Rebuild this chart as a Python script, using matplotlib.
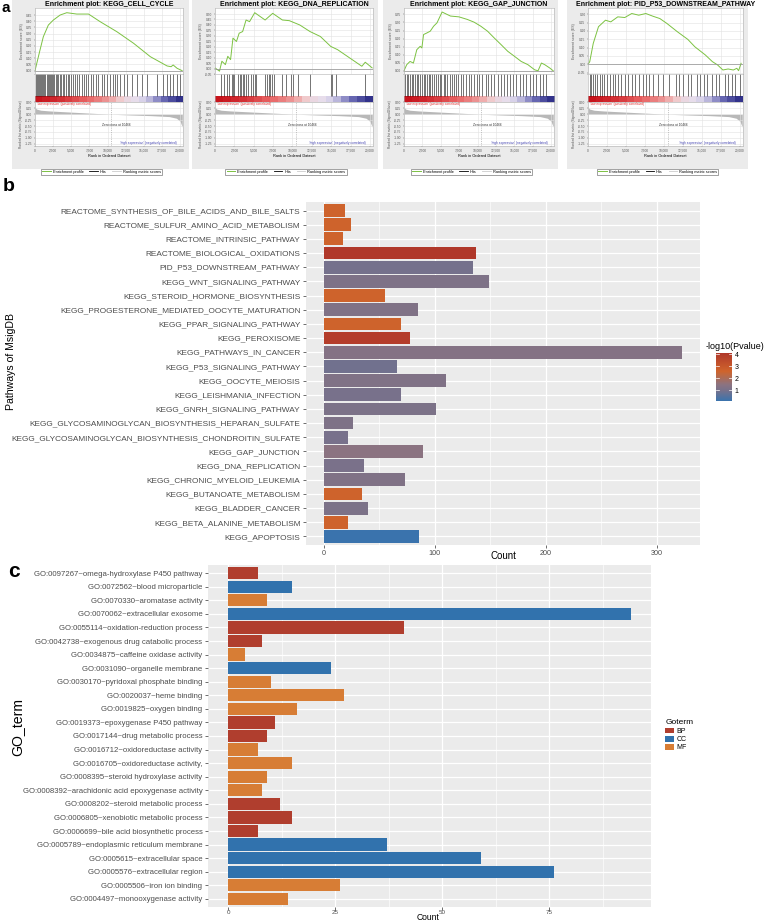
import numpy as np
import matplotlib
matplotlib.use("Agg")
import matplotlib.pyplot as plt
from matplotlib.colors import LinearSegmentedColormap, Normalize
from matplotlib.patches import Rectangle, Patch
from matplotlib.lines import Line2D
from matplotlib.ticker import FuncFormatter
import matplotlib.colorbar as mcolorbar

plt.rcParams['font.family'] = ['Liberation Sans', 'DejaVu Sans']

# ---------------- panel a: GSEA enrichment plots ----------------
gsea_names = ["KEGG_CELL_CYCLE", "KEGG_DNA_REPLICATION", "KEGG_GAP_JUNCTION",
              "PID_P53_DOWNSTREAM_PATHWAY"]

es1_rank = [0, 690, 1150, 1840, 2540, 3460, 4380, 5760, 7380, 8990, 11290, 13600,
            15900, 18210, 18760, 19040, 19590, 20280]
es1_score = [0, 0.167, 0.275, 0.369, 0.41, 0.45, 0.469, 0.458, 0.458, 0.396, 0.315,
             0.221, 0.113, 0.038, 0.032, 0.046, 0.019, 0]
es2_rank = [0, 580, 890, 1340, 1650, 2010, 2320, 2770, 3120, 3570, 4010, 4460, 5130,
            6470, 7450, 8700, 9590, 10930, 12270, 13600, 14940, 15830, 18960, 19400, 20290]
es2_score = [0.006, -0.024, 0.067, 0.036, 0.112, 0.082, 0.279, 0.248, 0.324, 0.339,
             0.445, 0.43, 0.512, 0.445, 0.506, 0.445, 0.439, 0.4, 0.339, 0.294, 0.203,
             0.173, 0.021, 0.058, 0.006]
es3_rank = [0, 370, 820, 1280, 1740, 2200, 2430, 2660, 3110, 3570, 4030, 4490, 5180,
            5860, 6320, 7470, 8610, 9530, 10440, 11360, 12270, 13190, 14110, 15020,
            15940, 16850, 17770, 18230, 18690, 19140, 19830, 20290]
es3_score = [0, 0.038, 0.058, 0.048, 0.131, 0.152, 0.142, 0.225, 0.235, 0.246, 0.277,
             0.298, 0.365, 0.35, 0.34, 0.335, 0.319, 0.302, 0.277, 0.246, 0.204, 0.163,
             0.121, 0.09, 0.058, 0.038, 0.006, 0, 0.048, 0.038, 0.017, 0]
es4_rank = [0, 230, 690, 1380, 2300, 3000, 3920, 4840, 5760, 6680, 7610, 8530, 9450,
            10370, 11760, 13140, 14060, 15440, 16370, 17060, 17750, 18440, 19130, 19590,
            19820, 20150]
es4_score = [0, 0.016, 0.125, 0.225, 0.264, 0.254, 0.284, 0.28, 0.304, 0.294, 0.304,
             0.288, 0.274, 0.245, 0.195, 0.149, 0.105, 0.056, 0.016, -0.004, -0.034,
             -0.028, -0.034, -0.024, -0.038, 0.006]

hits1 = [140, 320, 460, 600, 740, 870, 1010, 1150, 1290, 1430, 1610, 1750, 1890, 2070,
         2210, 2390, 2530, 2670, 2850, 2990, 3220, 3450, 3630, 3820, 4050, 4280, 4510,
         4740, 5010, 5290, 5570, 5840, 6120, 6440, 6760, 7040, 7360, 7680, 8050, 8420,
         8740, 9200, 9520, 9890, 10350, 10720, 11040, 11360, 11730, 12280, 12740, 13340,
         14030, 14720, 15410, 16790, 17710, 18170, 18630, 19090, 19550, 20010]
hits2 = [760, 1120, 1560, 1870, 2140, 2320, 2450, 2990, 3170, 3350, 3570, 3790, 4010,
         4240, 4680, 4910, 5130, 5350, 6470, 6690, 6910, 7140, 7360, 7580, 8700, 9140,
         9810, 10120, 10700, 12260, 14940, 15160, 15610, 19400]
hits3 = [140, 370, 600, 820, 1050, 1280, 1510, 1740, 1970, 2200, 2430, 2660, 2890, 3110,
         3340, 3570, 3800, 4030, 4400, 4580, 4850, 5040, 5400, 5630, 5860, 6230, 6550,
         6780, 7010, 7330, 7690, 8060, 8380, 8840, 9160, 9530, 9890, 10210, 10670, 11130,
         11450, 11820, 12270, 12730, 13190, 13650, 14010, 14470, 14790, 15250, 15710,
         16170, 16630, 17080, 17540, 18000, 18460, 18920, 19370]
hits4 = [230, 460, 690, 920, 1150, 1520, 1840, 2170, 2540, 2860, 3230, 3550, 3920, 4380,
         4840, 5300, 5760, 6220, 6680, 7240, 7610, 8070, 8530, 9220, 9910, 10600, 11520,
         11990, 12450, 13140, 13600, 14290, 14750, 15210, 15670, 16370, 16830, 17290,
         17980, 18440, 18900, 19360, 20050]

metric_rank = [0, 200, 800, 2000, 5000, 8000, 10466, 13000, 16000, 18500, 19500, 20000, 20300]
metric_val = [0.33, 0.22, 0.17, 0.14, 0.09, 0.04, 0.0, -0.03, -0.06, -0.1, -0.17, -0.3, -0.55]
zero_cross = 10466
strip_levels = [1.0, 0.95, 0.9, 0.85, 0.78, 0.7, 0.62, 0.55, 0.48, 0.4, 0.3, 0.15,
                -0.05, -0.15, -0.25, -0.35, -0.5, -0.65, -0.8, -0.95]

# ---------------- panel b: MsigDB pathways ----------------
pathways = [
    "REACTOME_SYNTHESIS_OF_BILE_ACIDS_AND_BILE_SALTS",
    "REACTOME_SULFUR_AMINO_ACID_METABOLISM",
    "REACTOME_INTRINSIC_PATHWAY",
    "REACTOME_BIOLOGICAL_OXIDATIONS",
    "PID_P53_DOWNSTREAM_PATHWAY",
    "KEGG_WNT_SIGNALING_PATHWAY",
    "KEGG_STEROID_HORMONE_BIOSYNTHESIS",
    "KEGG_PROGESTERONE_MEDIATED_OOCYTE_MATURATION",
    "KEGG_PPAR_SIGNALING_PATHWAY",
    "KEGG_PEROXISOME",
    "KEGG_PATHWAYS_IN_CANCER",
    "KEGG_P53_SIGNALING_PATHWAY",
    "KEGG_OOCYTE_MEIOSIS",
    "KEGG_LEISHMANIA_INFECTION",
    "KEGG_GNRH_SIGNALING_PATHWAY",
    "KEGG_GLYCOSAMINOGLYCAN_BIOSYNTHESIS_HEPARAN_SULFATE",
    "KEGG_GLYCOSAMINOGLYCAN_BIOSYNTHESIS_CHONDROITIN_SULFATE",
    "KEGG_GAP_JUNCTION",
    "KEGG_DNA_REPLICATION",
    "KEGG_CHRONIC_MYELOID_LEUKEMIA",
    "KEGG_BUTANOATE_METABOLISM",
    "KEGG_BLADDER_CANCER",
    "KEGG_BETA_ALANINE_METABOLISM",
    "KEGG_APOPTOSIS",
]
pathway_count = [19, 24, 17, 137, 134, 149, 55, 85, 69, 78, 323, 66, 110, 69, 101, 26,
                 22, 89, 36, 73, 34, 40, 22, 86]
pathway_neglogp = [2.6, 2.6, 2.6, 4.1, 0.95, 1.15, 2.6, 1.2, 2.6, 3.9, 1.3, 0.9, 1.2,
                   1.0, 1.1, 1.15, 1.0, 1.45, 1.05, 1.2, 2.6, 1.1, 2.6, 0.1]

# ---------------- panel c: GO terms ----------------
go_terms = [
    "GO:0097267~omega-hydroxylase P450 pathway",
    "GO:0072562~blood microparticle",
    "GO:0070330~aromatase activity",
    "GO:0070062~extracellular exosome",
    "GO:0055114~oxidation-reduction process",
    "GO:0042738~exogenous drug catabolic process",
    "GO:0034875~caffeine oxidase activity",
    "GO:0031090~organelle membrane",
    "GO:0030170~pyridoxal phosphate binding",
    "GO:0020037~heme binding",
    "GO:0019825~oxygen binding",
    "GO:0019373~epoxygenase P450 pathway",
    "GO:0017144~drug metabolic process",
    "GO:0016712~oxidoreductase activity",
    "GO:0016705~oxidoreductase activity,",
    "GO:0008395~steroid hydroxylase activity",
    "GO:0008392~arachidonic acid epoxygenase activity",
    "GO:0008202~steroid metabolic process",
    "GO:0006805~xenobiotic metabolic process",
    "GO:0006699~bile acid biosynthetic process",
    "GO:0005789~endoplasmic reticulum membrane",
    "GO:0005615~extracellular space",
    "GO:0005576~extracellular region",
    "GO:0005506~iron ion binding",
    "GO:0004497~monooxygenase activity",
]
go_count = [7, 15, 9, 94, 41, 8, 4, 24, 10, 27, 16, 11, 9, 7, 15, 9, 8, 12, 15, 7,
            37, 59, 76, 26, 14]
go_cat = ["BP", "CC", "MF", "CC", "BP", "BP", "MF", "CC", "MF", "MF", "MF", "BP", "BP",
          "MF", "MF", "MF", "MF", "BP", "BP", "BP", "CC", "CC", "CC", "MF", "MF"]
go_levels = ["BP", "CC", "MF"]
go_colors = {"BP": "#b03e2e", "CC": "#3172ad", "MF": "#d77d35"}

# ---------------- figure ----------------
W, H = 784, 923
fig = plt.figure(figsize=(W / 100, H / 100), dpi=100)


def px_axes(x0, y0, x1, y1):
    return fig.add_axes([x0 / W, 1 - y1 / H, (x1 - x0) / W, (y1 - y0) / H])


# panel a layout (pixels)
gsea_boxes = [(12, 189), (192, 378), (383, 558), (567, 748)]
gsea_axx = [(35, 183), (215, 373), (404, 554), (588, 743)]
gsea_ylim = [(-0.027, 0.507), (-0.05, 0.555), (-0.02, 0.39), (-0.058, 0.337)]
gsea_yticks = [np.arange(0, 0.46, 0.05), np.arange(-0.05, 0.51, 0.05),
               np.arange(0, 0.36, 0.05), np.arange(-0.05, 0.31, 0.05)]
es_ranks = [es1_rank, es2_rank, es3_rank, es4_rank]
es_scores = [es1_score, es2_score, es3_score, es4_score]
hits_all = [hits1, hits2, hits3, hits4]

strip_cmap = LinearSegmentedColormap.from_list(
    "strip", ["#2a2a86", "#7070b8", "#e6e0f0", "#f2c8c8", "#e86060", "#c8141c"])
xmax = 20400
xt = np.arange(0, 20001, 2500)
comma = FuncFormatter(lambda v, p: f"{int(v):,}")

for i, name in enumerate(gsea_names):
    bx0, bx1 = gsea_boxes[i]
    fig.add_artist(Rectangle((bx0 / W, 1 - 169 / H), (bx1 - bx0) / W, 169 / H,
                             transform=fig.transFigure, facecolor="#ebebeb",
                             edgecolor="none", zorder=-5))
    x0, x1 = gsea_axx[i]

    # enrichment score
    ax_es = px_axes(x0, 8, x1, 74)
    ax_es.plot(es_ranks[i], es_scores[i], color="#7cc242", lw=0.7)
    ax_es.axhline(0, color="#909090", lw=0.5)
    ax_es.set_xlim(0, xmax)
    ax_es.set_ylim(*gsea_ylim[i])
    ax_es.set_yticks(gsea_yticks[i])
    ax_es.yaxis.set_major_formatter(FuncFormatter(lambda v, p: f"{v:.2f}"))
    ax_es.set_xticks(xt)
    ax_es.set_xticklabels([])
    ax_es.grid(True, color="#e2e2e2", lw=0.4)
    ax_es.tick_params(labelsize=2.3, length=1, width=0.3, pad=0.8, colors="#555555")
    ax_es.set_ylabel("Enrichment score (ES)", fontsize=2.5, labelpad=1.5, color="#555555")
    ax_es.set_title(f"Enrichment plot: {name}", fontsize=5, fontweight="bold", pad=1.2)
    for s in ax_es.spines.values():
        s.set_color("#b0b0b0")
        s.set_linewidth(0.4)

    # hits + ranked list colour strip
    ax_h = px_axes(x0, 74, x1, 102)
    ax_h.vlines(hits_all[i], 0.22, 1, color="black", lw=0.45, alpha=0.85)
    ax_h.imshow([strip_levels], extent=(0, xmax, 0, 0.2), aspect="auto",
                cmap=strip_cmap, vmin=-1, vmax=1, interpolation="nearest")
    ax_h.set_xlim(0, xmax)
    ax_h.set_ylim(0, 1)
    ax_h.set_xticks([])
    ax_h.set_yticks([])
    for s in ax_h.spines.values():
        s.set_color("#b0b0b0")
        s.set_linewidth(0.4)

    # ranked list metric
    ax_m = px_axes(x0, 102, x1, 146)
    ax_m.fill_between(metric_rank, metric_val, 0, color="#b8b8b8", lw=0)
    ax_m.axvline(zero_cross, color="#999999", lw=0.4, ls=(0, (2, 2)))
    ax_m.set_xlim(0, xmax)
    ax_m.set_ylim(-1.35, 0.52)
    ax_m.set_yticks([0.5, 0.25, 0, -0.25, -0.5, -0.75, -1.0, -1.25])
    ax_m.yaxis.set_major_formatter(FuncFormatter(lambda v, p: f"{v:.2f}"))
    ax_m.set_xticks(xt)
    ax_m.xaxis.set_major_formatter(comma)
    ax_m.grid(True, color="#e2e2e2", lw=0.4)
    ax_m.tick_params(labelsize=2.3, length=1, width=0.3, pad=0.8, colors="#555555")
    ax_m.set_ylabel("Ranked list metric (Signal2Noise)", fontsize=2.3, labelpad=1.5,
                    color="#555555")
    ax_m.set_xlabel("Rank in Ordered Dataset", fontsize=2.8, labelpad=0.8)
    ax_m.text(300, 0.42, "'low expression' (positively correlated)", fontsize=2.3,
              color="#e03030", va="center")
    ax_m.text(zero_cross + 800, -0.45, f"Zero cross at {zero_cross}", fontsize=2.3,
              color="#333333", va="center", ha="center")
    ax_m.text(19500, -1.22, "'high expression' (negatively correlated)", fontsize=2.3,
              color="#4040b0", va="center", ha="right")
    for s in ax_m.spines.values():
        s.set_color("#b0b0b0")
        s.set_linewidth(0.4)
    handles = [Line2D([], [], color="#7cc242", lw=0.7),
               Line2D([], [], color="black", lw=0.6),
               Line2D([], [], color="#cccccc", lw=0.6)]
    leg = ax_m.legend(handles, ["Enrichment profile", "Hits", "Ranking metric scores"],
                      loc="upper center", bbox_to_anchor=(0.45, -0.47), ncol=3,
                      fontsize=2.8, frameon=True, fancybox=False, borderpad=0.3,
                      handlelength=2.2, columnspacing=1.5, handletextpad=0.5)
    leg.get_frame().set_edgecolor("#333333")
    leg.get_frame().set_linewidth(0.4)

fig.text(2 / W, 1 - 1 / H, "a", fontsize=11, fontweight="bold", va="top", ha="left")

# ---------------- panel b ----------------
ggbg = "#ebebeb"
pv_cmap = LinearSegmentedColormap.from_list(
    "pv", [(0.0, "#3a73ad"), (0.22, "#77718b"), (0.34, "#8b7381"),
           (0.62, "#cf642c"), (1.0, "#b0382a")])
pv_norm = Normalize(0.1, 4.1)

axb = px_axes(306, 202, 700, 545)
nb = len(pathways)
yb = np.arange(nb)[::-1]
axb.barh(yb, pathway_count, height=0.9, color=pv_cmap(pv_norm(pathway_neglogp)), zorder=3)
axb.set_facecolor(ggbg)
axb.set_xlim(-16.2, 339)
axb.set_ylim(-0.6, nb - 0.4)
axb.set_xticks([0, 100, 200, 300])
axb.set_xticks([50, 150, 250], minor=True)
axb.set_yticks(yb)
axb.set_yticklabels(pathways)
axb.grid(True, which="major", color="white", lw=0.9, zorder=0)
axb.grid(True, which="minor", axis="x", color="white", lw=0.45, zorder=0)
axb.set_axisbelow(True)
for s in axb.spines.values():
    s.set_visible(False)
axb.tick_params(axis="y", which="major", length=2.5, width=0.5, color="#333333",
                labelsize=5.95, labelcolor="#4d4d4d", pad=1.5)
axb.tick_params(axis="x", which="major", length=2.5, width=0.5, color="#333333",
                labelsize=5.2, labelcolor="#4d4d4d", pad=0.8)
axb.tick_params(axis="both", which="minor", length=0)
fig.text(503 / W, 1 - 556 / H, "Count", fontsize=7, ha="center", va="center")
fig.text(11 / W, 1 - 362 / H, "Pathways of MsigDB", rotation=90, fontsize=7.6,
         ha="center", va="center")
fig.text(3 / W, 1 - 178 / H, "b", fontsize=14, fontweight="bold", va="top", ha="left")

cax = px_axes(716, 353, 732, 401)
cb = mcolorbar.ColorbarBase(cax, cmap=pv_cmap, norm=pv_norm, orientation="vertical")
cb.set_ticks([1, 2, 3, 4])
cb.outline.set_visible(False)
cax.tick_params(labelsize=5, length=0, pad=2)
for t in [1, 2, 3, 4]:
    cax.plot([0, 0.2], [t, t], color="white", lw=0.5, transform=cax.get_yaxis_transform())
    cax.plot([0.8, 1], [t, t], color="white", lw=0.5, transform=cax.get_yaxis_transform())
fig.text(706 / W, 1 - 351 / H, "-log10(Pvalue)", fontsize=6.5, va="bottom", ha="left")

# ---------------- panel c ----------------
axc = px_axes(208, 565, 651, 907)
nc = len(go_terms)
yc = np.arange(nc)[::-1]
axc.barh(yc, go_count, height=0.9, color=[go_colors[c] for c in go_cat], zorder=3)
axc.set_facecolor(ggbg)
axc.set_xlim(-4.7, 98.7)
axc.set_ylim(-0.6, nc - 0.4)
axc.set_xticks([0, 25, 50, 75])
axc.set_xticks([12.5, 37.5, 62.5, 87.5], minor=True)
axc.set_yticks(yc)
axc.set_yticklabels(go_terms)
axc.grid(True, which="major", color="white", lw=0.9, zorder=0)
axc.grid(True, which="minor", axis="x", color="white", lw=0.45, zorder=0)
axc.set_axisbelow(True)
for s in axc.spines.values():
    s.set_visible(False)
axc.tick_params(axis="y", which="major", length=2.5, width=0.5, color="#333333",
                labelsize=5.55, labelcolor="#4d4d4d", pad=1.5)
axc.tick_params(axis="x", which="major", length=2, width=0.5, color="#333333",
                labelsize=4.5, labelcolor="#4d4d4d", pad=0.3)
axc.tick_params(axis="both", which="minor", length=0)
fig.text(428 / W, 1 - 922 / H, "Count", fontsize=6.2, ha="center", va="bottom")
fig.text(17 / W, 1 - 727 / H, "GO_term", rotation=90, fontsize=10.2,
         ha="center", va="center")
fig.text(8 / W, 1 - 562 / H, "c", fontsize=15, fontweight="bold", va="top", ha="left")

leg_c = fig.legend([Patch(facecolor=go_colors[k], edgecolor="none") for k in go_levels],
                   go_levels, loc="upper left", bbox_to_anchor=(662 / W, 1 - 716 / H),
                   title="Goterm", frameon=False, fontsize=5, title_fontsize=6,
                   handlelength=1.2, handleheight=0.9, labelspacing=0.15, borderpad=0,
                   handletextpad=0.4)
leg_c._legend_box.align = "left"

fig.savefig("out.png", dpi=100)
